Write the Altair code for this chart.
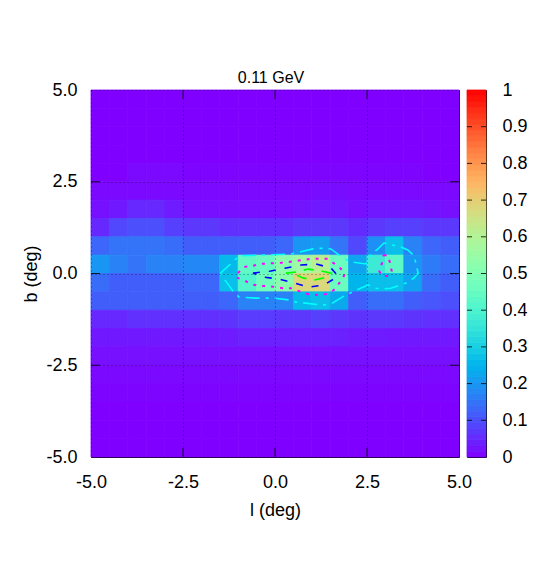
import math
import altair as alt
import pandas as pd

FONT = "Liberation Sans"
FS = 18
TITLE_FS = 16

# Cell values, top row (b 4.5..5) to bottom row, left (l -5) to right (l 5)
rows = [
 [.00,.00,.00,.00,.00,.00,.00,.00,.00,.00,.00,.00,.00,.00,.00,.00,.00,.00,.00,.00],
 [.00,.00,.00,.00,.00,.00,.00,.00,.00,.00,.00,.00,.00,.00,.00,.00,.00,.00,.00,.00],
 [.00,.00,.00,.00,.00,.00,.00,.00,.00,.00,.00,.00,.00,.00,.00,.00,.00,.00,.00,.00],
 [.00,.00,.00,.00,.00,.00,.00,.00,.00,.00,.00,.00,.00,.00,.00,.00,.00,.00,.00,.00],
 [.00,.00,.01,.01,.01,.005,.005,.005,.005,.005,.005,.005,.005,.005,.005,.005,.005,.005,.00,.00],
 [.01,.01,.01,.01,.01,.01,.01,.01,.01,.01,.01,.01,.015,.015,.01,.01,.01,.01,.01,.01],
 [.02,.03,.05,.05,.035,.02,.02,.02,.02,.02,.02,.025,.03,.03,.02,.03,.03,.03,.025,.02],
 [.05,.09,.10,.10,.08,.07,.07,.06,.06,.06,.06,.07,.07,.07,.055,.07,.08,.08,.07,.07],
 [.13,.15,.15,.15,.14,.12,.12,.12,.12,.12,.13,.20,.21,.15,.09,.19,.27,.17,.13,.12],
 [.20,.17,.15,.17,.17,.18,.18,.26,.44,.45,.52,.56,.61,.46,.22,.37,.43,.20,.16,.14],
 [.14,.12,.12,.12,.12,.13,.13,.27,.41,.47,.52,.68,.68,.46,.25,.27,.27,.22,.14,.12],
 [.12,.12,.12,.12,.12,.12,.12,.13,.17,.17,.17,.26,.27,.23,.12,.14,.14,.12,.11,.10],
 [.05,.05,.06,.06,.06,.06,.06,.065,.075,.075,.07,.07,.08,.07,.065,.07,.07,.065,.06,.06],
 [.03,.03,.03,.03,.03,.03,.03,.035,.04,.04,.04,.04,.04,.04,.035,.035,.03,.03,.03,.03],
 [.02,.02,.02,.02,.02,.02,.02,.02,.02,.02,.02,.02,.02,.02,.02,.02,.02,.02,.02,.02],
 [.01,.01,.01,.01,.01,.01,.01,.01,.01,.01,.01,.01,.01,.01,.01,.01,.01,.01,.01,.01],
 [.005,.005,.005,.005,.005,.005,.005,.005,.005,.005,.005,.005,.005,.005,.005,.005,.005,.005,.005,.005],
 [.00,.00,.00,.00,.00,.00,.00,.00,.00,.00,.00,.00,.00,.00,.00,.00,.00,.00,.00,.00],
 [.00,.00,.00,.00,.00,.00,.00,.00,.00,.00,.00,.00,.00,.00,.00,.00,.00,.00,.00,.00],
 [.00,.00,.00,.00,.00,.00,.00,.00,.00,.00,.00,.00,.00,.00,.00,.00,.00,.00,.00,.00],
]

cyan_l = [-1.49,-1.06,-0.98,-0.43,0.43,1.03,1.30,1.52,1.88,2.12,2.47,2.61,2.80,2.96,3.42,3.61,3.78,3.89,3.78,3.56,3.15,2.93,2.74,2.53,2.28,2.12,1.88,1.52,1.30,0.57,0.38,-0.03,-0.52,-0.98,-1.14,-1.28,-1.49]
cyan_b = [0.00,0.40,0.48,0.50,0.53,0.67,0.69,0.67,0.40,0.31,0.26,0.53,0.67,0.83,0.72,0.64,0.48,0.01,-0.12,-0.26,-0.40,-0.42,-0.40,-0.31,-0.42,-0.50,-0.61,-0.83,-0.86,-0.78,-0.72,-0.67,-0.67,-0.64,-0.48,-0.29,0.00]
mag_l = [-1.01,-0.84,-0.63,-0.43,0.16,0.57,0.98,1.44,1.58,1.74,1.90,1.85,1.71,1.60,1.39,1.01,0.79,0.43,0.22,-0.19,-0.43,-0.65,-0.84,-1.01,-1.01]
mag_b = [0.01,0.18,0.20,0.26,0.29,0.34,0.40,0.40,0.29,0.18,0.01,-0.12,-0.31,-0.45,-0.56,-0.59,-0.53,-0.40,-0.40,-0.34,-0.34,-0.29,-0.18,-0.12,0.01]
mag2_l = [2.95,3.06,3.13,3.17,3.09,2.91,2.83,2.91,2.95]
mag2_b = [0.50,0.50,0.28,0.07,-0.07,-0.07,0.07,0.29,0.50]
blue_l = [-0.60,-0.11,0.30,0.71,1.11,1.52,1.71,1.60,1.33,0.92,0.52,0.11,-0.30,-0.60]
blue_b = [0.01,0.07,0.15,0.23,0.26,0.15,-0.07,-0.15,-0.31,-0.37,-0.26,-0.15,-0.10,0.01]
green_l = [0.30,0.57,0.90,1.25,1.52,1.33,1.06,0.76,0.52,0.30]
green_b = [0.01,0.04,0.12,0.07,0.01,-0.12,-0.18,-0.12,-0.01,0.01]

axis_ticks = [-5, -2.5, 0, 2.5, 5]
inner_ticks = [-2.5, 0, 2.5]
cb_ticks = [0, .1, .2, .3, .4, .5, .6, .7, .8, .9, 1]
cb_inner = [.1, .2, .3, .4, .5, .6, .7, .8, .9]
CB_LEVELS = 64

# gnuplot rgbformulae 33,13,10
stops = [i / 40 for i in range(41)]
def pal(x):
    r = abs(2 * x - 0.5); g = math.sin(math.pi * x); b = math.cos(math.pi * x / 2)
    return "#%02x%02x%02x" % tuple(round(min(1, max(0, c)) * 255) for c in (r, g, b))
color_scale = alt.Scale(domain=stops, range=[pal(s) for s in stops], interpolate="rgb", clamp=True)

cells = pd.DataFrame([
    {"l0": -5 + 0.5 * j, "l1": -4.5 + 0.5 * j, "b0": 4.5 - 0.5 * i, "b1": 5 - 0.5 * i, "v": v}
    for i, row in enumerate(rows) for j, v in enumerate(row)])

W, H = 368, 367
xs = alt.Scale(domain=[-5, 5], nice=False, zero=False)
ys = alt.Scale(domain=[-5, 5], nice=False, zero=False)
lab = "(datum.value<0?'-':'')+format(abs(datum.value),'.1f')"

x_axis = alt.Axis(values=axis_ticks, labelExpr=lab, grid=True, gridColor="#000", gridOpacity=.5,
                  gridDash=[1, 3], gridWidth=1, ticks=False, domain=False, zindex=1, title="l (deg)",
                  labelFont=FONT, labelFontSize=FS, titleFont=FONT, titleFontSize=FS,
                  titleFontWeight="normal", labelColor="#000", titleColor="#000",
                  labelPadding=16, titlePadding=10, labelFlush=False, labelOverlap=False)
y_axis = alt.Axis(values=axis_ticks, labelExpr=lab, grid=True, gridColor="#000", gridOpacity=.5,
                  gridDash=[1, 3], gridWidth=1, ticks=False, domain=False, zindex=1, title="b (deg)",
                  labelFont=FONT, labelFontSize=FS, titleFont=FONT, titleFontSize=FS,
                  titleFontWeight="normal", labelColor="#000", titleColor="#000",
                  labelPadding=14, titlePadding=5, labelFlush=False, labelOverlap=False)
cb_axis = alt.Axis(orient="right", values=cb_ticks, labelExpr="format(datum.value,'.2~f')", grid=False, title=None,
                   ticks=False, domain=False, labelFont=FONT, labelFontSize=FS, labelColor="#000",
                   labelPadding=16, labelAlign="left", labelFlush=False, labelOverlap=False)

heat = alt.Chart(cells).mark_rect(strokeWidth=0.8).encode(
    x=alt.X("l0:Q", scale=xs, axis=x_axis),
    x2="l1:Q",
    y=alt.Y("b0:Q", scale=ys, axis=y_axis),
    y2="b1:Q",
    color=alt.Color("v:Q", scale=color_scale, legend=None),
    stroke=alt.Color("v:Q", scale=color_scale, legend=None),
)

def contour(ls, bs, color, dash, width=1.6):
    df = pd.DataFrame({"l": ls, "b": bs, "i": range(len(ls))})
    return alt.Chart(df).mark_line(color=color, strokeDash=dash, strokeWidth=width, interpolate="linear").encode(
        x=alt.X("l:Q", scale=xs, axis=x_axis), y=alt.Y("b:Q", scale=ys, axis=y_axis), order="i:Q")

def ticks_x(y0, y1):
    return alt.Chart(pd.DataFrame({"t": inner_ticks})).mark_rule(color="#000", opacity=.8).encode(
        x=alt.X("t:Q", scale=xs, axis=x_axis), y=alt.value(y0), y2=alt.value(y1))
def ticks_y(x0, x1):
    return alt.Chart(pd.DataFrame({"t": inner_ticks})).mark_rule(color="#000", opacity=.8).encode(
        y=alt.Y("t:Q", scale=ys, axis=y_axis), x=alt.value(x0), x2=alt.value(x1))

main = alt.layer(
    heat,
    contour(cyan_l, cyan_b, "#00ffff", [14, 6, 3, 6]),
    contour(mag_l, mag_b, "#ff00ff", [3, 6], 2),
    contour(mag2_l, mag2_b, "#ff00ff", [3, 6], 2),
    contour(blue_l, blue_b, "#0000ff", [7, 9]),
    contour(green_l, green_b, "#00ff00", [10, 8]),
    ticks_x(0, 9), ticks_x(H - 9, H), ticks_y(0, 9), ticks_y(W - 9, W),
).properties(width=W, height=H, title=alt.Title("0.11 GeV", font=FONT, fontSize=TITLE_FS, fontWeight="normal", offset=-5, dx=-4, color="#000"))

bands = pd.DataFrame([{"v0": i / CB_LEVELS, "v1": (i + 1) / CB_LEVELS, "c": (i + .5) / CB_LEVELS} for i in range(CB_LEVELS)])
cys = alt.Scale(domain=[0, 1], nice=False, zero=False)
cb = alt.layer(
    alt.Chart(bands).mark_rect(strokeWidth=0.8).encode(
        x=alt.value(0), x2=alt.value(19),
        y=alt.Y("v0:Q", scale=cys, axis=cb_axis),
        y2="v1:Q",
        color=alt.Color("c:Q", scale=color_scale, legend=None),
        stroke=alt.Color("c:Q", scale=color_scale, legend=None),
    ),
    alt.Chart(pd.DataFrame({"t": cb_inner})).mark_rule(color="#000", opacity=.8).encode(
        y=alt.Y("t:Q", scale=cys, axis=cb_axis), x=alt.value(0), x2=alt.value(5)),
    alt.Chart(pd.DataFrame({"t": cb_inner})).mark_rule(color="#000", opacity=.8).encode(
        y=alt.Y("t:Q", scale=cys, axis=cb_axis), x=alt.value(14), x2=alt.value(19)),
).properties(width=19, height=H)

chart = alt.hconcat(main, cb, spacing=8, bounds="flush").properties(
    padding={"left": 14, "top": 61, "right": 5, "bottom": 5},
    background="white",
).configure_view(stroke="#000", strokeWidth=1)

chart.save("out.html", embed_options={"renderer": "svg", "actions": False})
